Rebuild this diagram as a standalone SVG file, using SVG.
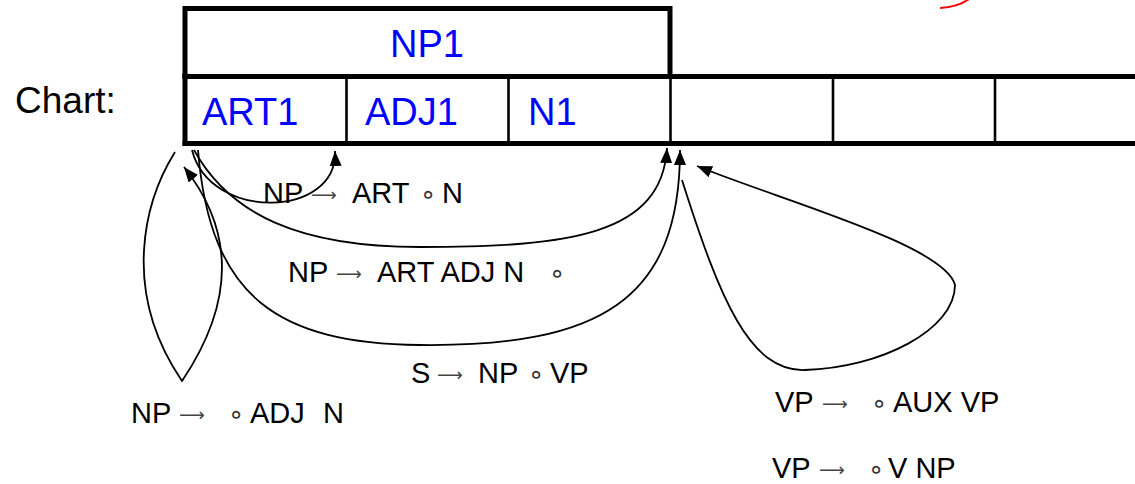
<svg xmlns="http://www.w3.org/2000/svg" width="1135" height="484" viewBox="0 0 1135 484">
<style>
  .thick{stroke:#000;stroke-width:5;fill:none;stroke-linecap:square}
  .thin{stroke:#000;stroke-width:2.6;fill:none}
  .cell{font-family:"Liberation Sans",Arial,sans-serif;font-size:38px;fill:#0000ff}
  .title{font-family:"Liberation Sans",Arial,sans-serif;font-size:37px;fill:#000}
  .lbl{font-family:"Liberation Sans",Arial,sans-serif;font-size:29px;fill:#000}
  .arr{font-family:"DejaVu Sans",sans-serif;font-size:18px;fill:#444}
  .dot{font-family:"DejaVu Sans",sans-serif;font-size:26px;fill:#333}
  .edge{stroke:#000;stroke-width:1.8;fill:none;marker-end:url(#ah)}
</style>
<defs>
  <marker id="ah" markerUnits="userSpaceOnUse" viewBox="0 0 15 12" markerWidth="15" markerHeight="12" refX="15" refY="6" orient="auto">
    <path d="M0,0 L15,6 L0,12 z" fill="#000"/>
  </marker>
</defs>
<rect width="1135" height="484" fill="#fff"/>
<path d="M940,8 Q958,7 969,-1" stroke="#ff0000" stroke-width="2" fill="none"/>

<g id="chart">
  <g id="NP1">
    <polyline class="thick" points="185,76 185,8.5 670,8.5 670,76"/>
    <text class="cell" x="390" y="57">NP1</text>
  </g>
  <g id="ART1">
    <text class="cell" x="202" y="125">ART1</text>
  </g>
  <g id="ADJ1">
    <line class="thin" x1="346.5" y1="76" x2="346.5" y2="143"/>
    <text class="cell" x="365" y="125">ADJ1</text>
  </g>
  <g id="N1">
    <line class="thin" x1="508.5" y1="76" x2="508.5" y2="143"/>
    <text class="cell" x="528" y="125">N1</text>
  </g>
  <g id="cell4"><line class="thin" x1="670.5" y1="76" x2="670.5" y2="143"/></g>
  <g id="cell5"><line class="thin" x1="833" y1="76" x2="833" y2="143"/></g>
  <g id="cell6"><line class="thin" x1="995" y1="76" x2="995" y2="143"/></g>
  <line class="thick" x1="185" y1="76.5" x2="1140" y2="76.5"/>
  <line class="thick" x1="185" y1="143.5" x2="1140" y2="143.5"/>
  <line class="thick" x1="185" y1="76" x2="185" y2="143.5"/>
</g>

<g id="chart-label">
  <text class="title" x="15" y="113">Chart:</text>
</g>

<g id="connectors">
  <path class="edge" d="M175,152 C145,200 120,290 182,381 C240,295 230,225 184,167"/>
  <path class="edge" d="M192,150 C210,222 338,218 335,151"/>
  <path class="edge" d="M194,150 C230,215 300,247 420,247 C570,247 662,235 667,148"/>
  <path class="edge" d="M198,150 C210,300 280,343 420,345 C600,347 680,300 680,150"/>
  <path class="edge" d="M682,180 C720,300 750,372 805,370 C880,368 955,330 955,285 C945,245 780,200 697,166"/>
</g>

<g id="rule-NP-ART-N">
  <text class="lbl" x="263" y="203">NP</text>
  <text class="arr" x="311" y="201">⟶</text>
  <text class="lbl" x="352" y="203">ART</text>
  <text class="dot" x="420" y="203">∘</text>
  <text class="lbl" x="442" y="203">N</text>
</g>
<g id="rule-NP-ART-ADJ-N">
  <text class="lbl" x="288" y="282">NP</text>
  <text class="arr" x="336" y="280">⟶</text>
  <text class="lbl" x="377" y="282">ART ADJ N</text>
  <text class="dot" x="549" y="282">∘</text>
</g>
<g id="rule-S-NP-VP">
  <text class="lbl" x="411" y="383">S</text>
  <text class="arr" x="437" y="381">⟶</text>
  <text class="lbl" x="478" y="383">NP</text>
  <text class="dot" x="528" y="383">∘</text>
  <text class="lbl" x="550" y="383">VP</text>
</g>
<g id="rule-NP-ADJ-N">
  <text class="lbl" x="131" y="423">NP</text>
  <text class="arr" x="179" y="421">⟶</text>
  <text class="dot" x="228" y="423">∘</text>
  <text class="lbl" x="250" y="423">ADJ</text>
  <text class="lbl" x="323" y="423">N</text>
</g>
<g id="rule-VP-AUX-VP">
  <text class="lbl" x="775" y="412">VP</text>
  <text class="arr" x="822" y="410">⟶</text>
  <text class="dot" x="871" y="412">∘</text>
  <text class="lbl" x="893" y="412">AUX VP</text>
</g>
<g id="rule-VP-V-NP">
  <text class="lbl" x="772" y="478">VP</text>
  <text class="arr" x="819" y="476">⟶</text>
  <text class="dot" x="868" y="478">∘</text>
  <text class="lbl" x="888" y="478">V NP</text>
</g>
</svg>
